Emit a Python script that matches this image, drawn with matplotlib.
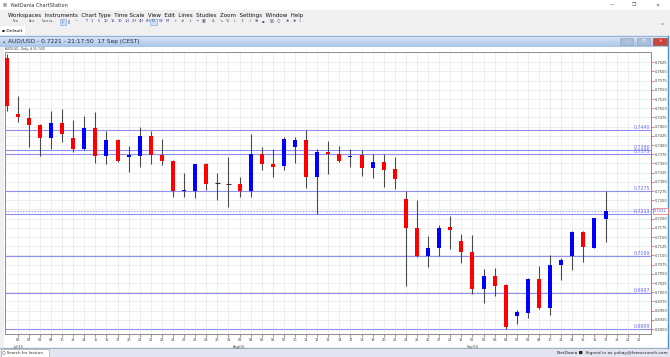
import matplotlib.pyplot as plt
import numpy as np
from matplotlib.patches import Rectangle
from matplotlib.colors import LinearSegmentedColormap
from matplotlib.transforms import blended_transform_factory
from matplotlib.ticker import FuncFormatter

# daily candles, Jul 03 2015 .. Sep 17 2015, then empty slots up to Sep 22
day_labels = ["03", "06", "07", "08", "09", "10", "13", "14", "15", "16", "17",
              "20", "21", "22", "23", "24", "27", "28", "29", "30", "31",
              "03", "04", "05", "06", "07", "10", "11", "12", "13", "14",
              "17", "18", "19", "20", "21", "24", "25", "26", "27", "28", "31",
              "01", "02", "03", "04", "07", "08", "09", "10", "11",
              "14", "15", "16", "17", "18", "21", "22"]
month_labels = {1: "Jul/15", 21: "Aug/15", 42: "Sep/15"}

opens = [0.7636, 0.7484, 0.7474, 0.7454, 0.7419, 0.7459, 0.7420, 0.7389, 0.7446, 0.7369,
         0.7414, 0.7367, 0.7371, 0.7424, 0.7373, 0.7357, 0.7274, 0.7275, 0.7349, 0.7296,
         0.7294, 0.7294, 0.7275, 0.7376, 0.7349, 0.7343, 0.7395, 0.7414, 0.7313, 0.7381,
         0.7376, 0.7367, 0.7372, 0.7338, 0.7354, 0.7334, 0.7252, 0.7174, 0.7098, 0.7119,
         0.7177, 0.7139, 0.7110, 0.7009, 0.7045, 0.7020, 0.6935, 0.6944, 0.7036, 0.6958,
         0.7073, 0.7098, 0.7163, 0.7121, 0.7200]
highs = [0.7647, 0.7533, 0.7500, 0.7456, 0.7492, 0.7497, 0.7468, 0.7478, 0.7490, 0.7438,
         0.7416, 0.7397, 0.7449, 0.7438, 0.7417, 0.7358, 0.7325, 0.7348, 0.7352, 0.7323,
         0.7367, 0.7313, 0.7429, 0.7395, 0.7389, 0.7421, 0.7422, 0.7441, 0.7389, 0.7411,
         0.7397, 0.7389, 0.7386, 0.7376, 0.7375, 0.7367, 0.7275, 0.7251, 0.7153, 0.7182,
         0.7207, 0.7158, 0.7155, 0.7062, 0.7065, 0.7021, 0.6952, 0.7039, 0.7070, 0.7100,
         0.7092, 0.7166, 0.7166, 0.7201, 0.7275]
lows = [0.7493, 0.7463, 0.7395, 0.7371, 0.7390, 0.7407, 0.7382, 0.7386, 0.7352, 0.7348,
        0.7355, 0.7326, 0.7339, 0.7348, 0.7346, 0.7258, 0.7260, 0.7255, 0.7278, 0.7251,
        0.7232, 0.7260, 0.7260, 0.7331, 0.7313, 0.7331, 0.7352, 0.7282, 0.7213, 0.7320,
        0.7354, 0.7341, 0.7317, 0.7311, 0.7285, 0.7280, 0.7018, 0.7097, 0.7068, 0.7098,
        0.7118, 0.7080, 0.6995, 0.6970, 0.6991, 0.6899, 0.6914, 0.6930, 0.6954, 0.6938,
        0.7033, 0.7060, 0.7083, 0.7121, 0.7136]
closes = [0.7506, 0.7475, 0.7454, 0.7419, 0.7460, 0.7429, 0.7390, 0.7446, 0.7369, 0.7414,
          0.7356, 0.7374, 0.7424, 0.7372, 0.7356, 0.7275, 0.7277, 0.7348, 0.7294, 0.7296,
          0.7294, 0.7275, 0.7375, 0.7348, 0.7341, 0.7416, 0.7413, 0.7313, 0.7381, 0.7376,
          0.7356, 0.7371, 0.7338, 0.7354, 0.7332, 0.7307, 0.7174, 0.7098, 0.7119, 0.7174,
          0.7169, 0.7109, 0.7009, 0.7045, 0.7018, 0.6905, 0.6946, 0.7037, 0.6958, 0.7073,
          0.7088, 0.7163, 0.7124, 0.7201, 0.7221]

levels = [0.7440, 0.7386, 0.7375, 0.7275, 0.7213, 0.7099, 0.6997, 0.6899]
last_price = 0.7221

W, H = 670, 357
fig = plt.figure(figsize=(W / 100, H / 100), dpi=100)
fig.patch.set_facecolor('#f0f0f0')

# window chrome, drawn in pixel coordinates
bg = fig.add_axes([0, 0, 1, 1])
bg.axis('off')


def box(x, y, w, h, fc, ec='none', lw=0.6, z=1):
    bg.add_patch(Rectangle((x, y), w, h, facecolor=fc, edgecolor=ec, linewidth=lw, zorder=z))


box(0, 0, W, 10, 'white')
bg.text(3, 5.5, '▦', fontsize=3.2, va='center', color='#777777')
bg.text(11, 5.5, 'NetDania ChartStation', fontsize=3.6, va='center', color='#333333')
bg.text(612, 5, '—', fontsize=3.5, va='center', ha='center', color='#555555')
bg.text(634, 5, '❐', fontsize=3.5, va='center', ha='center', color='#555555')
bg.text(657, 5, '✕', fontsize=3.5, va='center', ha='center', color='#555555')

bg.text(8, 16, 'Workspaces  Instruments  Chart Type  Time Scale  View  Edit  Lines  Studies  '
        'Zoom  Settings  Window  Help', fontsize=4.0, va='center', color='#111111')
for x, s in [(13, 'New'), (29, 'Save'), (42, 'Save as...')]:
    bg.text(x, 21.5, s, fontsize=1.9, va='center', color='#444444')
box(60, 18.5, 6, 6, '#cfe0f5', '#7aa7d8', 0.4)
box(150, 18.5, 7, 6, '#cfe0f5', '#7aa7d8', 0.4)
for x, s in [(61.5, '|¦'), (68, 'ǁ'), (75, '~'), (85, 'T'), (91, '1'), (98, '5'), (104, '10'),
             (111, '15'), (118, '30'), (125, '1H'), (132, '2H'), (139, '4H'), (146, '8H'),
             (151.5, 'D'), (159, 'W'), (166, 'M')]:
    bg.text(x, 21.5, s, fontsize=2.6, va='center', color='#333399')
for x, s in [(174, '+'), (181, '#'), (188, '↓'), (195, '••'), (202, '▣'), (212, 'Δ'),
             (219, '↘'), (226, '⇅'), (233, '⇂'), (240, '↕'), (248, '✓'), (255, '✖'),
             (262, '▪'), (270, '▤'), (277, '○'), (285, '♠'), (292, '♠'), (299, 'Ξ')]:
    bg.text(x, 21.5, s, fontsize=2.8, va='center', color='#555577')
bg.text(662, 23, '▪', fontsize=3, va='center', ha='center', color='#8fb3dd')

box(0, 26, 25, 9, 'white')
bg.text(1.5, 30.5, '▪ Default', fontsize=3.2, va='center', color='#111111')

# chart window header (blue gradient)
cmap = LinearSegmentedColormap.from_list('hdr', ['#dfeaf6', '#a8c5e6'])
bg.imshow(np.linspace(0, 1, 40).reshape(-1, 1), extent=(0, 668, 47, 35.5), aspect='auto',
          cmap=cmap, zorder=1)
bg.plot([0, 668], [35.5, 35.5], color='#8aa6c6', lw=0.6, zorder=2)
bg.text(3, 41.5, '▴', fontsize=3.2, va='center', color='#445577', zorder=3)
bg.text(8, 41.5, 'AUD/USD - 0.7221 - 21:17:50  17 Sep (CEST)', fontsize=4.2, va='center',
        color='#1b2a44', zorder=3)
box(620, 38, 13, 7, '#a9bfd9', '#8aa3c2', 0.4, z=3)
box(637, 38, 13, 7, '#a9bfd9', '#8aa3c2', 0.4, z=3)
box(653, 38, 14, 7, '#c9443a', '#a8352d', 0.4, z=3)
bg.text(626.5, 41.5, '—', fontsize=3, ha='center', va='center', color='white', zorder=4)
bg.text(643.5, 41.5, '❐', fontsize=3, ha='center', va='center', color='white', zorder=4)
bg.text(660, 41.5, '✕', fontsize=3, ha='center', va='center', color='white', zorder=4)

box(4, 47, 664, 300, 'white')
bg.plot([668, 668], [35.5, 348], color='#4f93b8', lw=1.0, zorder=3)
bg.text(5, 49.3, 'AUD/USD , Daily, # 55 / 500', fontsize=2.1, va='center', color='#333333')

# status bar
box(0, 347.5, W, 10, '#e4e4f2')
bg.plot([0, 668], [347.5, 347.5], color='#7fa9bd', lw=0.6, zorder=3)
box(0.5, 349, 48, 7.5, 'white', '#9a9a9a', 0.4, z=3)
bg.text(2, 352.8, '○ Search for Instrun', fontsize=2.9, va='center', color='#333333', zorder=4)
bg.text(668, 352.8, 'NetDania ■  Signed in as yohay@forexcrunch.com', fontsize=3.2,
        ha='right', va='center', color='#222222', zorder=4)

bg.set_xlim(0, W)
bg.set_ylim(H, 0)

# price chart
ax = fig.add_axes([5 / W, 1 - 334 / H, 646 / W, 282 / H])
ax.set_facecolor('white')
x = np.arange(len(opens))
o = np.array(opens)
c = np.array(closes)

ax.vlines(x, lows, highs, color='#4a4a4a', lw=0.8, zorder=3)
up = c > o
down = c < o
flat = c == o
ax.bar(x[up], (c - o)[up], bottom=o[up], width=0.36, color='#0000ff', zorder=4)
ax.bar(x[down], (o - c)[down], bottom=c[down], width=0.36, color='#ff0000', zorder=4)
ax.hlines(o[flat], x[flat] - 0.2, x[flat] + 0.2, color='#303030', lw=0.8, zorder=4)

tr = blended_transform_factory(ax.transAxes, ax.transData)
for lv in levels:
    ax.axhline(lv, color='#8f8ff5', lw=0.8, zorder=2)
    ax.text(0.999, lv, f'{lv:.4f}', transform=tr, ha='right', va='bottom', fontsize=3.4,
            color='#6f6ff5', zorder=5)
ax.axhline(last_price, color='#8f8ff5', lw=0.6, ls=(0, (2, 1.5)), zorder=2)
ax.text(1.0045, last_price, f'{last_price:.4f}', transform=tr, ha='left', va='center',
        fontsize=2.6, color='#4f4fe0', zorder=10, clip_on=False,
        bbox=dict(boxstyle='square,pad=0.35', facecolor='white', edgecolor='#e06a6a', lw=0.5))

yt = np.arange(0.6900, 0.76251, 0.0025)
ax.set_yticks(yt)
ax.yaxis.set_major_formatter(FuncFormatter(
    lambda v, p: '' if abs(v - last_price) < 0.0006 else f'{v:.4f}'))
ax.yaxis.tick_right()
ax.tick_params(axis='y', direction='out', length=2, width=0.5, color='#c05050',
               labelsize=2.6, labelcolor='#404040', pad=0.6)

ax.set_xticks(np.arange(1, len(day_labels)))
ax.set_xticklabels(day_labels[1:])
ax.tick_params(axis='x', direction='out', length=2, width=0.5, color='#c05050',
               labelsize=2.5, labelcolor='#404040', pad=1.2)
for i, lab in month_labels.items():
    ax.text(i, -0.04, lab, transform=blended_transform_factory(ax.transData, ax.transAxes),
            ha='center', va='top', fontsize=2.5, color='#404040', clip_on=False)

ax.grid(color='#ebebeb', lw=0.6, zorder=0)
ax.set_axisbelow(True)
for s in ax.spines.values():
    s.set_color('#8c8c8c')
    s.set_linewidth(0.7)

ax.set_xlim(-0.15, 58.1)
ax.set_ylim(0.68865, 0.76527)

fig.savefig('out.png', dpi=100, facecolor=fig.get_facecolor())
